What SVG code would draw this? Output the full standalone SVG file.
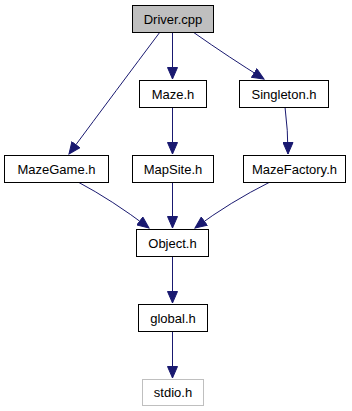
<svg xmlns="http://www.w3.org/2000/svg" width="352" height="411" viewBox="0 0 352 411">
  <style>
    .box { fill: #ffffff; stroke: #000000; stroke-width: 1; }
    .root { fill: #bfbfbf; stroke: #000000; stroke-width: 1; }
    .ext { fill: #ffffff; stroke: #bfbfbf; stroke-width: 1; }
    .lbl { font-family: "Liberation Sans", Arial, sans-serif; font-size: 13px; fill: #000000; text-anchor: middle; }
    .edge { fill: none; stroke: #191970; stroke-width: 1; marker-end: url(#arrow); }
  </style>
  <defs>
    <!-- filled arrowhead shared by every dependency edge -->
    <marker id="arrow" markerUnits="userSpaceOnUse" markerWidth="13" markerHeight="11" viewBox="0 0 13 11" refX="12" refY="5.5" orient="auto">
      <path d="M0.5,0.5 L12,5.5 L0.5,10.5 Z" fill="#191970" stroke="#191970" stroke-width="1"/>
    </marker>
  </defs>
  <rect width="352" height="411" fill="#ffffff"/>

  <g id="connectors">
    <path class="edge" d="M160,32 Q118,88 69,154"/>
    <path class="edge" d="M172.5,32 L172.5,79"/>
    <path class="edge" d="M193,32 Q230,58 264,79"/>
    <path class="edge" d="M172.5,107 L172.5,154"/>
    <path class="edge" d="M285,107 Q288,130 288,154"/>
    <path class="edge" d="M78,182 Q112,200 149,228"/>
    <path class="edge" d="M172.5,182 L172.5,228"/>
    <path class="edge" d="M270,182 Q230,202 195,228"/>
    <path class="edge" d="M172.5,256 L172.5,303"/>
    <path class="edge" d="M172.5,331 L172.5,378"/>
  </g>

  <g id="driver_cpp">
    <rect class="root" x="132.5" y="5.5" width="81" height="27"/>
    <text class="lbl" x="173" y="23.5">Driver.cpp</text>
  </g>
  <g id="maze_h">
    <rect class="box" x="139.5" y="80.5" width="67" height="27"/>
    <text class="lbl" x="173" y="98.5">Maze.h</text>
  </g>
  <g id="singleton_h">
    <rect class="box" x="239.5" y="80.5" width="89" height="27"/>
    <text class="lbl" x="284" y="98.5">Singleton.h</text>
  </g>
  <g id="mazegame_h">
    <rect class="box" x="4.5" y="155.5" width="104" height="27"/>
    <text class="lbl" x="56.5" y="173.5">MazeGame.h</text>
  </g>
  <g id="mapsite_h">
    <rect class="box" x="132.5" y="155.5" width="81" height="27"/>
    <text class="lbl" x="173" y="173.5">MapSite.h</text>
  </g>
  <g id="mazefactory_h">
    <rect class="box" x="243.5" y="155.5" width="102" height="27"/>
    <text class="lbl" x="294.5" y="173.5">MazeFactory.h</text>
  </g>
  <g id="object_h">
    <rect class="box" x="136.5" y="229.5" width="72" height="27"/>
    <text class="lbl" x="172.5" y="247.5">Object.h</text>
  </g>
  <g id="global_h">
    <rect class="box" x="138.5" y="304.5" width="69" height="27"/>
    <text class="lbl" x="173" y="322.5">global.h</text>
  </g>
  <g id="stdio_h">
    <rect class="ext" x="142.5" y="379.5" width="61" height="26"/>
    <text class="lbl" x="173" y="397">stdio.h</text>
  </g>
</svg>
